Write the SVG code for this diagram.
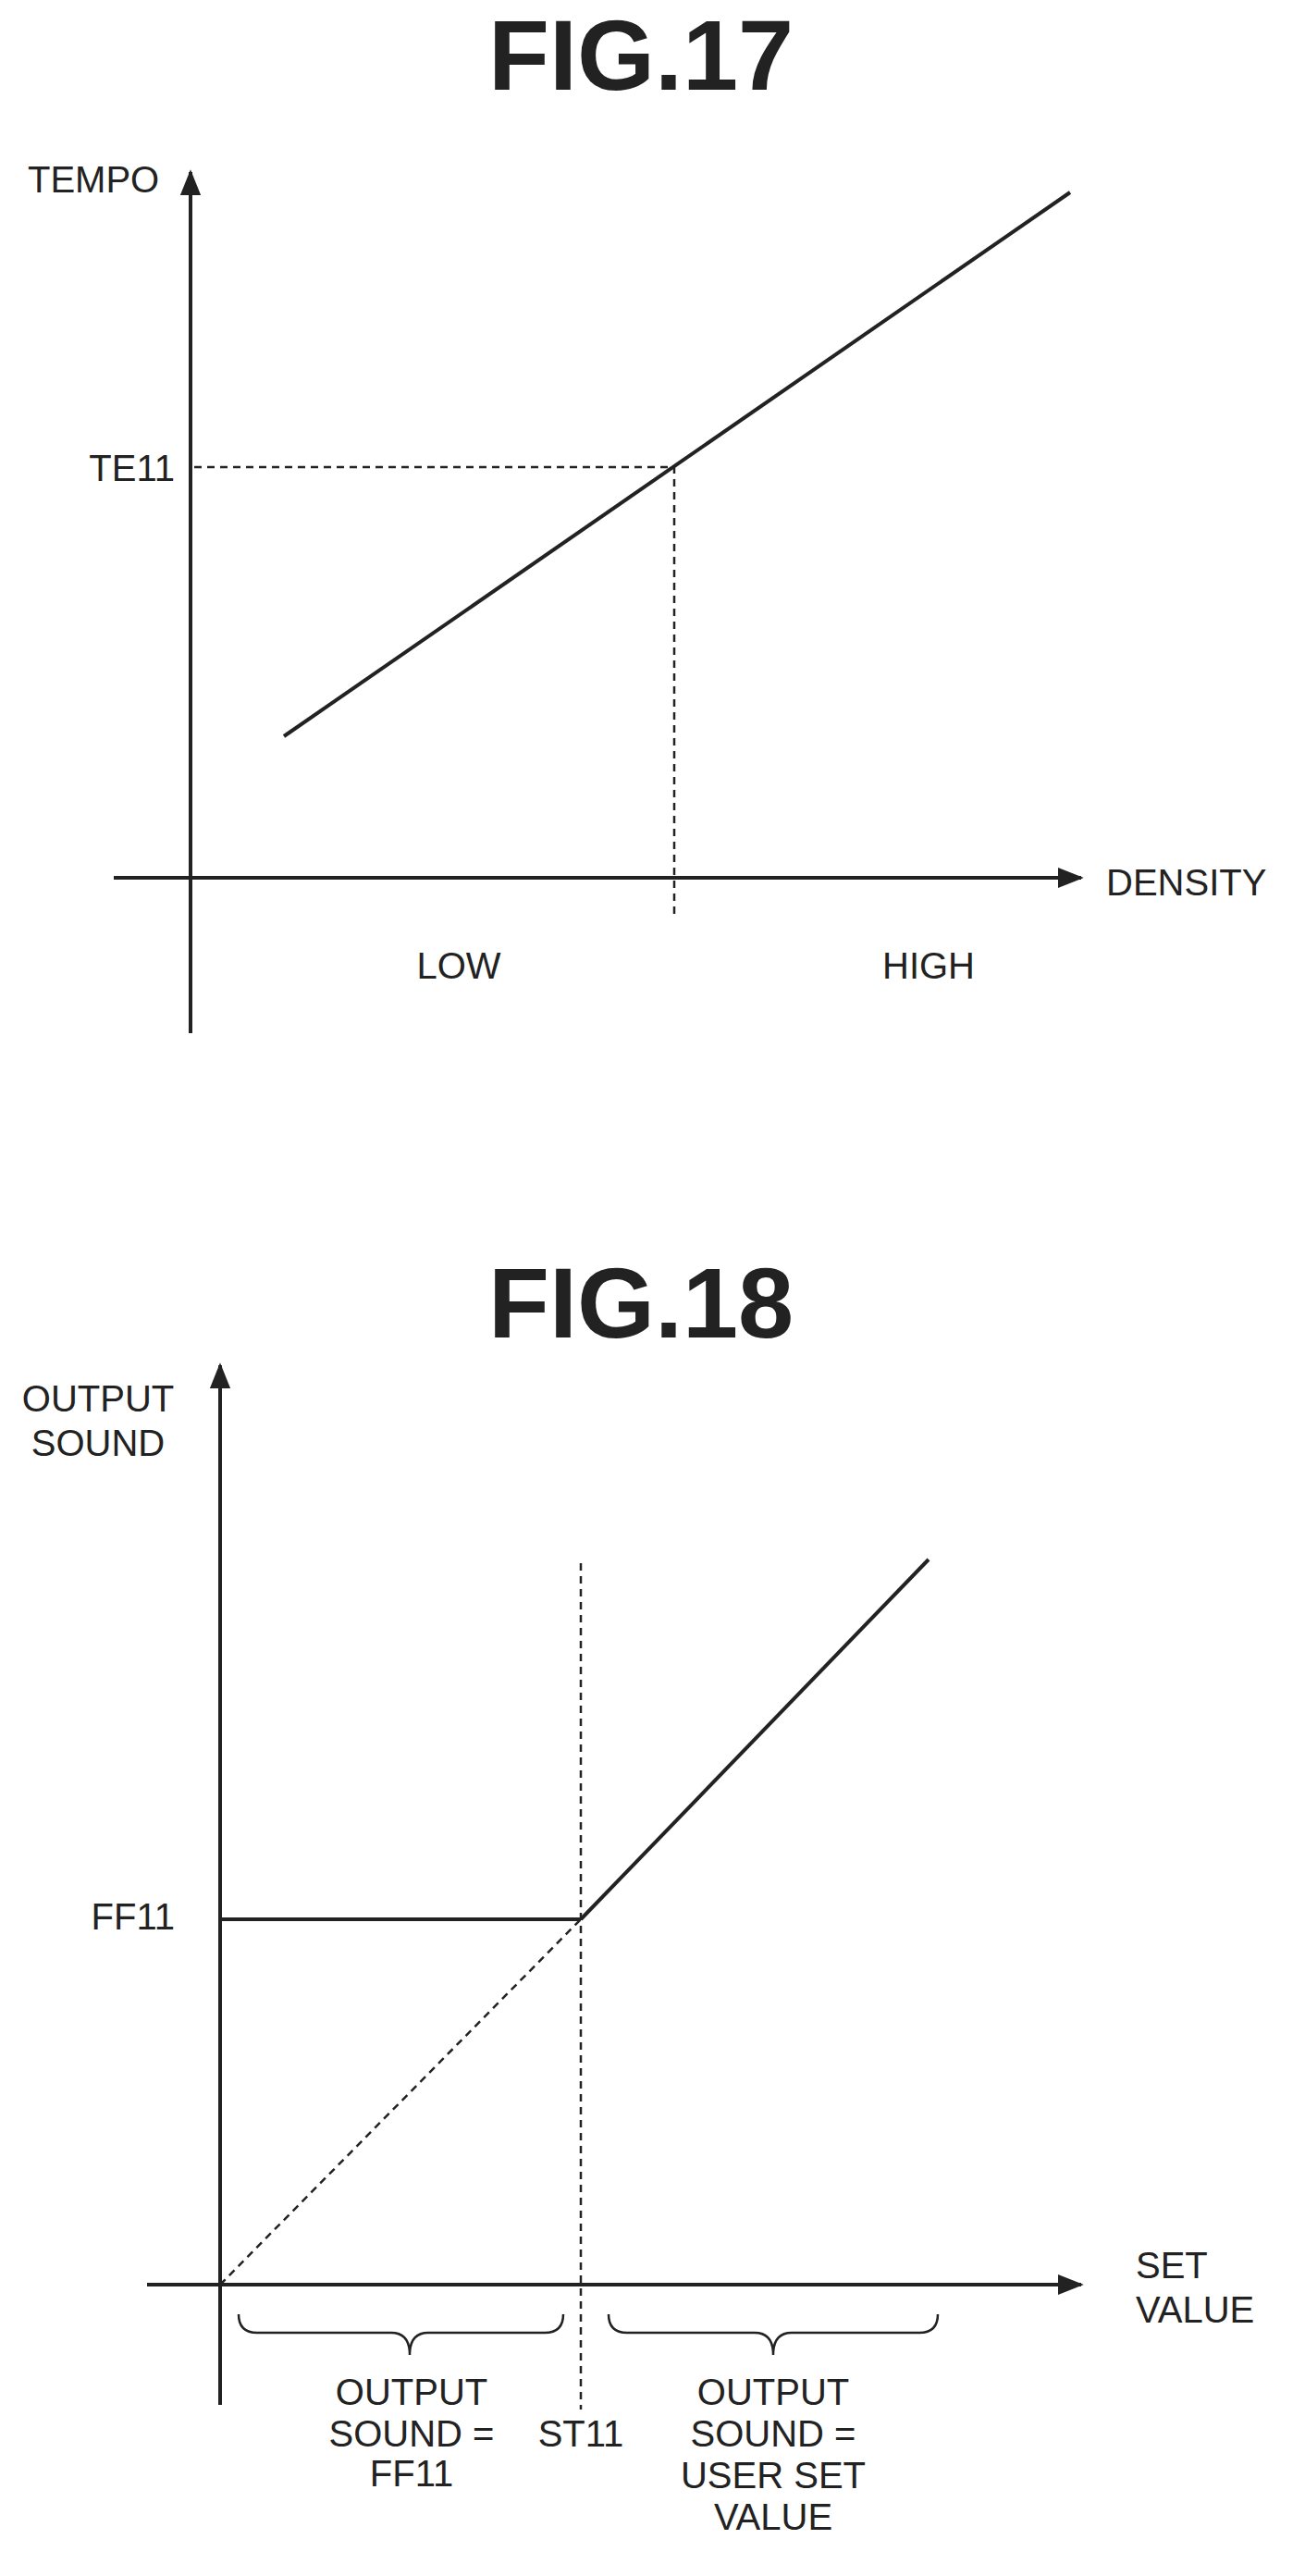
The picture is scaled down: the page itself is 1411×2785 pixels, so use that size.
<svg xmlns="http://www.w3.org/2000/svg" width="1411" height="2785" viewBox="0 0 1411 2785">
<style>
text{font-family:"Liberation Sans",Arial,sans-serif;font-size:40px;fill:#222}
.t{font-size:108px;font-weight:bold;text-anchor:middle}
.m{text-anchor:middle}.e{text-anchor:end}
.s{stroke:#222;stroke-width:4;fill:none}
.d{stroke:#222;stroke-width:2.5;fill:none;stroke-dasharray:8 6}
</style>
<defs><marker id="b" viewBox="0 0 10 10" refX="9" refY="5" markerWidth="28" markerHeight="28" orient="auto" markerUnits="userSpaceOnUse"><path d="M0,1L10,5L0,9z" fill="#222"/></marker></defs>
<g id="fig17">
<text class="t" x="693" y="97">FIG.17</text>
<g id="axes17"><line class="s" x1="206" y1="1117" x2="206" y2="186" marker-end="url(#b)"/><line class="s" x1="123" y1="949" x2="1169" y2="949" marker-end="url(#b)"/></g>
<line class="s" x1="307" y1="796" x2="1157" y2="208"/>
<polyline class="d" points="210,505 729,505 729,988"/>
<text x="30" y="208">TEMPO</text>
<text class="e" x="189" y="520">TE11</text>
<text x="1196" y="968">DENSITY</text>
<text class="m" x="496" y="1058">LOW</text>
<text class="m" x="1004" y="1058">HIGH</text>
</g>
<g id="fig18">
<text class="t" x="693" y="1446">FIG.18</text>
<g id="axes18"><line class="s" x1="238" y1="2600" x2="238" y2="1476" marker-end="url(#b)"/><line class="s" x1="159" y1="2470" x2="1169" y2="2470" marker-end="url(#b)"/></g>
<line class="d" x1="628" y1="1690" x2="628" y2="2605"/>
<line class="s" x1="238" y1="2075" x2="628" y2="2075"/>
<line class="s" x1="628" y1="2075" x2="1004" y2="1686"/>
<line class="d" x1="238" y1="2470" x2="628" y2="2075"/>
<text class="m" x="106" y="1526">OUTPUT</text><text class="m" x="106" y="1574">SOUND</text>
<text class="e" x="189" y="2086">FF11</text>
<text x="1228" y="2463">SET</text><text x="1228" y="2511">VALUE</text>
<path class="s" style="stroke-width:2.5" d="M258,2502q0,20 20,20h145q20,0 20,24q0,-24 20,-24h126q20,0 20,-20"/>
<path class="s" style="stroke-width:2.5" d="M658,2502q0,20 20,20h138q20,0 20,24q0,-24 20,-24h138q20,0 20,-20"/>
<text class="m" x="445" y="2600">OUTPUT</text><text class="m" x="445" y="2645">SOUND =</text><text class="m" x="445" y="2688">FF11</text>
<text class="m" x="628" y="2645">ST11</text>
<text class="m" x="836" y="2600">OUTPUT</text><text class="m" x="836" y="2645">SOUND =</text><text class="m" x="836" y="2690">USER SET</text><text class="m" x="836" y="2735">VALUE</text>
</g>
</svg>
